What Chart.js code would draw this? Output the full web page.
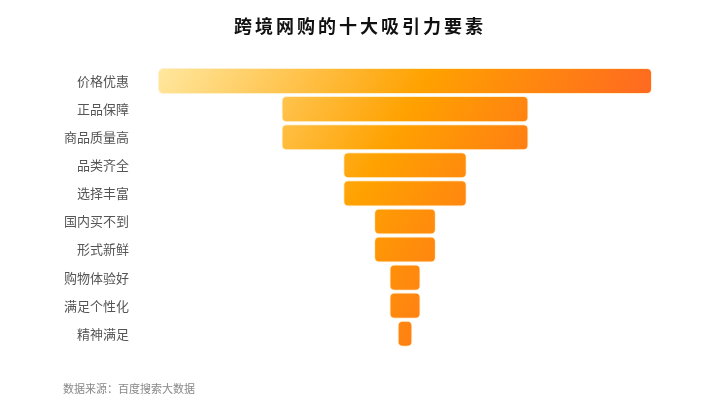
<!DOCTYPE html>
<html>
<head>
<meta charset="utf-8">
<script src="https://cdn.jsdelivr.net/npm/chart.js@4/dist/chart.umd.min.js"></script>
<style>
  html, body { margin: 0; padding: 0; background: #fff; }
  #wrap { width: 717px; height: 413px; }
</style>
</head>
<body>
<div id="wrap"><canvas id="myChart"></canvas></div>
<script>
const categories = ["价格优惠", "正品保障", "商品质量高", "品类齐全", "选择丰富",
                    "国内买不到", "形式新鲜", "购物体验好", "满足个性化", "精神满足"];
const values = [100, 50, 50, 25, 25, 12.5, 12.5, 6.3, 6.3, 3];
const titleText = "跨境网购的十大吸引力要素";
const sourceText = "数据来源：百度搜索大数据";

const CJK = "'Noto Sans CJK SC', 'Noto Sans', sans-serif";
const maxVal = Math.max(...values);

function barGradient(context) {
  const chart = context.chart;
  const area = chart.chartArea;
  if (!area) return "#FFA000";
  const g = chart.ctx.createLinearGradient(area.left, area.top, area.right, area.bottom);
  g.addColorStop(0, "#FFE8A0");
  g.addColorStop(0.42, "#FFA100");
  g.addColorStop(0.77, "#FF6A20");
  g.addColorStop(1, "#FF5A20");
  return g;
}

// title drawn by hand so it can have letter spacing
const spacedTitle = {
  id: "spacedTitle",
  afterDraw(chart) {
    const ctx = chart.ctx;
    ctx.save();
    ctx.font = "bold 18px " + CJK;
    ctx.fillStyle = "#111";
    ctx.textAlign = "center";
    ctx.textBaseline = "middle";
    if ("letterSpacing" in ctx) ctx.letterSpacing = "3px";
    ctx.fillText(titleText, 360, 26);
    ctx.restore();
  }
};

const ctx = document.getElementById("myChart").getContext("2d");
const myChart = new Chart(ctx, {
  type: "bar",
  data: {
    labels: categories,
    datasets: [{
      data: values.map(v => [-v / 2, v / 2]),
      backgroundColor: barGradient,
      borderColor: "rgba(255, 238, 200, 0.9)",
      borderWidth: 1,
      borderSkipped: false,
      borderRadius: 5,
      categoryPercentage: 1,
      barPercentage: 0.93
    }]
  },
  options: {
    indexAxis: "y",
    responsive: true,
    maintainAspectRatio: false,
    animation: false,
    layout: { padding: { top: 67, left: 63, right: 65, bottom: 0 } },
    scales: {
      x: { display: false, min: -maxVal / 2, max: maxVal / 2 },
      y: {
        grid: { display: false, drawTicks: false },
        border: { display: false },
        ticks: { color: "#555", padding: 29, font: { size: 13, family: CJK } },
        afterFit(scale) { scale.width = 95; }
      }
    },
    plugins: {
      legend: { display: false },
      tooltip: { enabled: false },
      title: { display: false },
      subtitle: {
        display: true,
        text: sourceText,
        position: "bottom",
        align: "start",
        color: "#888",
        font: { size: 11, family: CJK },
        padding: { top: 34, bottom: 18 }
      }
    }
  },
  plugins: [spacedTitle]
});
</script>
</body>
</html>
